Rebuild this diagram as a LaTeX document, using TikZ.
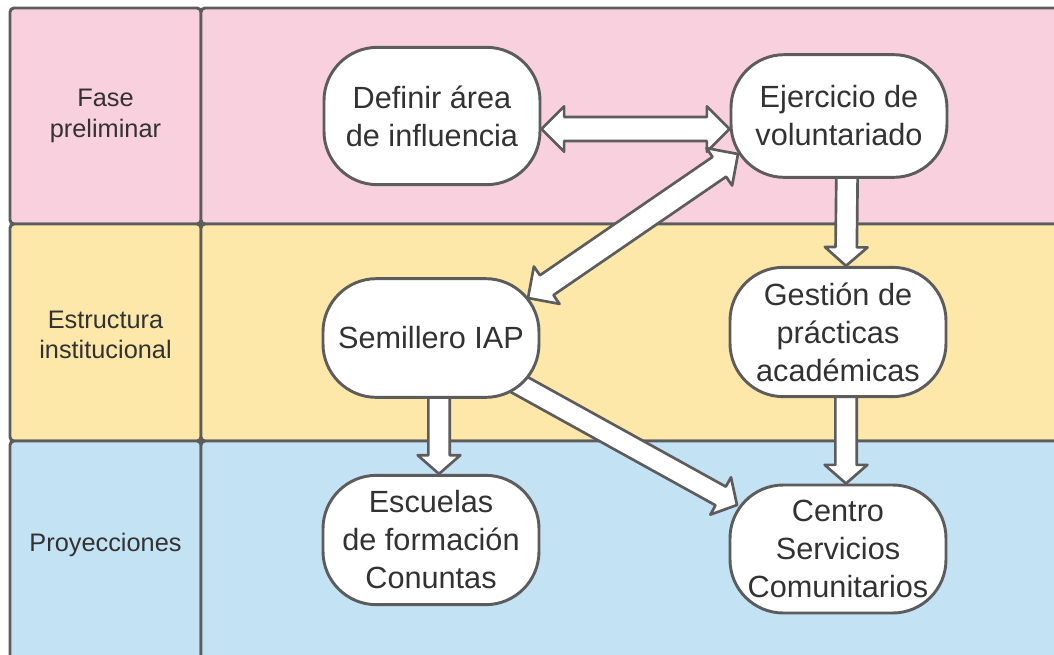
\documentclass[tikz,border=0pt]{standalone}
\usepackage{fontspec}
\setmainfont{Liberation Sans}
\usetikzlibrary{calc}

\definecolor{pinklane}{RGB}{249,208,221}
\definecolor{yellowlane}{RGB}{253,232,170}
\definecolor{bluelane}{RGB}{195,227,245}
\definecolor{edgegray}{RGB}{92,92,92}
\definecolor{textgray}{RGB}{50,50,50}

\pgfdeclarelayer{lanes}
\pgfdeclarelayer{arrows}
\pgfsetlayers{lanes,arrows,main}

\tikzset{
  lane/.style={draw=edgegray, line width=2.2pt, rounded corners=3pt},
  lanelabel/.style={text=textgray, align=center, font=\fontsize{19}{23}\selectfont},
  stage/.style={draw=edgegray, line width=2.2pt, fill=white, rounded corners=40pt,
    align=center, text=textgray, font=\fontsize{23}{28.5}\selectfont,
    minimum width=162pt, inner sep=2pt},
  blockarrow/.style={draw=edgegray, fill=white, line width=2pt, line join=round}
}

% block arrow from #1 to #2
\newcommand{\singlearrow}[2]{%
  \coordinate (sa-a) at #1;
  \coordinate (sa-b) at #2;
  \coordinate (sa-c) at ($(sa-b)!14pt!(sa-a)$);
  \draw[blockarrow] ($(sa-a)!8pt!90:(sa-b)$) -- ($(sa-c)!8pt!90:(sa-b)$)
    -- ($(sa-c)!16pt!90:(sa-b)$) -- (sa-b) -- ($(sa-c)!16pt!-90:(sa-b)$)
    -- ($(sa-c)!8pt!-90:(sa-b)$) -- ($(sa-a)!8pt!-90:(sa-b)$) -- cycle;
}
% block arrow with two heads
\newcommand{\doublearrow}[2]{%
  \coordinate (da-a) at #1;
  \coordinate (da-b) at #2;
  \coordinate (da-c) at ($(da-a)!17pt!(da-b)$);
  \coordinate (da-d) at ($(da-b)!17pt!(da-a)$);
  \draw[blockarrow] (da-a) -- ($(da-c)!17pt!90:(da-b)$) -- ($(da-c)!9pt!90:(da-b)$)
    -- ($(da-d)!9pt!90:(da-b)$) -- ($(da-d)!17pt!90:(da-b)$) -- (da-b)
    -- ($(da-d)!17pt!-90:(da-b)$) -- ($(da-d)!9pt!-90:(da-b)$)
    -- ($(da-c)!9pt!-90:(da-b)$) -- ($(da-c)!17pt!-90:(da-b)$) -- cycle;
}

\begin{document}
\begin{tikzpicture}[x=0.75pt, y=-0.75pt]
\useasboundingbox (0,0) rectangle (1054,654);

% lanes
\begin{pgfonlayer}{lanes}
\clip (0,0) rectangle (1054,654);
\fill[white] (0,0) rectangle (1054,654);
\draw[lane, fill=pinklane] (10,8) rectangle (201,224);
\draw[lane, fill=pinklane] (201,8) rectangle (1080,224);
\draw[lane, fill=yellowlane] (10,224) rectangle (201,441);
\draw[lane, fill=yellowlane] (201,224) rectangle (1080,441);
\draw[lane, fill=bluelane] (10,441) rectangle (201,680);
\draw[lane, fill=bluelane] (201,441) rectangle (1080,680);
\end{pgfonlayer}

\node[lanelabel] (fase) at (105.5,116) {Fase\\preliminar};
\node[lanelabel] (estr) at (105.5,335) {Estructura\\institucional};
\node[lanelabel] (proy) at (105.5,545) {Proyecciones};

% stages
\node[stage, minimum height=103pt] (defi) at (432,116) {Definir área\\de influencia};
\node[stage, minimum height=92pt] (ejer) at (839,116) {Ejercicio de\\voluntariado};
\node[stage, minimum height=89pt] (semi) at (431,338) {Semillero IAP};
\node[stage, minimum height=97pt] (gest) at (838,332) {Gestión de\\prácticas\\académicas};
\node[stage, minimum height=97pt] (escu) at (431,540) {Escuelas\\de formación\\Conuntas};
\node[stage, minimum height=96pt] (cent) at (838,549) {Centro\\Servicios\\Comunitarios};

% connectors
\begin{pgfonlayer}{arrows}
\doublearrow{($(defi.east)+(0,13)$)}{($(ejer.west)+(0,13)$)}
\doublearrow{($(ejer.center)+(-101,38)$)}{($(semi.center)+(97,-40)$)}
\singlearrow{($(ejer.south)+(8,-4)$)}{($(gest.north)+(8,0)$)}
\singlearrow{($(gest.south)+(8,-4)$)}{($(cent.north)+(8,0)$)}
\singlearrow{($(semi.south)+(8,-4)$)}{($(escu.north)+(8,0)$)}
\singlearrow{($(semi.center)+(80,42)$)}{($(cent.center)+(-101,-44)$)}
\end{pgfonlayer}

\end{tikzpicture}
\end{document}
